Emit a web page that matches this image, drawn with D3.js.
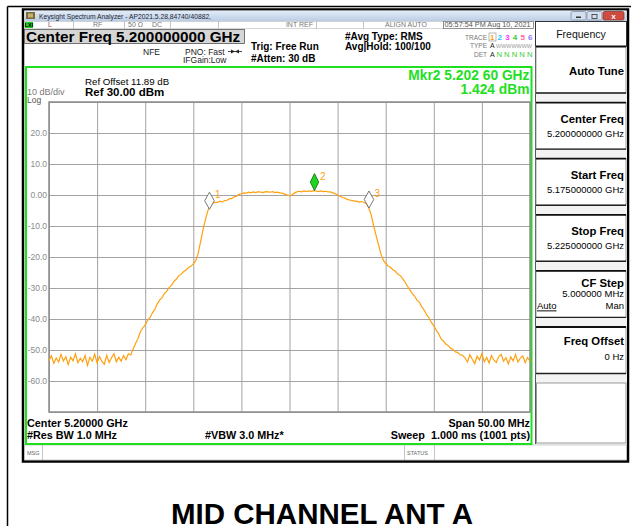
<!DOCTYPE html>
<html><head><meta charset="utf-8">
<script src="https://cdn.jsdelivr.net/npm/d3@7"></script>
<style>
body{margin:0;background:#fff}
svg{display:block;font-family:"Liberation Sans",Arial,Helvetica,sans-serif}
</style>
</head><body>
<svg id="c" width="631" height="526"></svg>
<script>
// ---------------- data ----------------
const startFreqGHz = 5.175;
const stopFreqGHz = 5.225;
const stepGHz = 0.00025;
const refLevelDbm = 30;
const bottomLevelDbm = -70;
const traceDbm = [
-53.4,-51.9,-54.3,-52.6,-53.9,-51.4,-53.6,-52.2,-54.7,-52.3,
-53.5,-51.2,-54.1,-52.7,-53.8,-51.8,-55.0,-52.4,-53.6,-51.3,
-54.2,-52.1,-53.7,-54.6,-51.7,-54.0,-52.5,-51.2,-53.8,-52.3,
-53.6,-51.8,-53.1,-51.2,
-51.6,-49.6,-47.9,-46.3,-44.1,-42.9,
-41.9,-40.4,-39.6,-38.0,-36.9,-35.1,-33.9,-33.1,-31.7,-31.0,
-29.8,-29.1,-27.8,-27.1,-26.0,-25.5,-24.7,-24.2,-23.4,-23.0,
-22.2,-21.2,-18.9,-15.2,-11.3,-8.0,-5.2,-3.4,-2.6,-2.4,
-2.4,-2.0,-2.3,-1.8,-1.7,-1.2,-1.2,-0.6,-0.4,0.2,
0.4,0.7,0.6,0.9,0.7,1.0,0.8,1.1,0.9,0.8,
1.1,1.0,0.9,1.1,0.8,0.9,0.7,0.6,0.3,0.0,
-0.3,0.1,0.6,1.0,1.2,1.0,1.3,1.1,1.3,1.2,
1.4,1.3,1.1,1.3,1.1,1.2,1.0,1.0,0.7,0.4,
0.0,-0.4,-0.8,-1.0,-1.4,-1.6,-1.8,-2.0,-2.0,-2.3,
-2.1,-2.4,-2.8,-4.2,-6.5,-10.0,-13.0,-16.0,-19.0,-21.0,
-22.1,-22.9,-23.3,-24.1,-24.6,-25.5,-26.0,-26.9,-28.0,-29.4,
-30.5,-31.7,-32.6,-33.9,-34.6,-36.1,-37.1,-38.6,-39.6,-41.1,
-42.2,-43.6,-44.7,-46.4,-47.1,-48.1,-48.6,-49.4,-49.8,-50.6,
-50.8,-51.6,-51.7,
-52.6,-53.9,-51.5,-53.0,-54.4,-52.0,-53.2,-51.2,-53.8,-52.4,
-54.2,-51.8,-53.3,-54.0,-52.1,-51.4,-53.6,-52.5,-54.5,-52.2,
-53.5,-51.5,-53.9,-52.6,-51.9,-54.1,-52.4,-53.7
];
const yTickValues = [20,10,0,-10,-20,-30,-40,-50,-60];
const yTickLabels = ["20.0","10.0","0.00","-10.0","-20.0","-30.0","-40.0","-50.0","-60.0"];
const markerIds = ["1","2","3"];
const markerFreqGHz = [5.19168, 5.2026, 5.20826];
const markerDbm = [-4.6, 1.424, -4.2];
const activeMarker = "2";
const softkeyTitles = ["Auto Tune","Center Freq","Start Freq","Stop Freq","CF Step","Freq Offset"];
const softkeyValues = ["","5.200000000 GHz","5.175000000 GHz","5.225000000 GHz","5.000000 MHz","0 Hz"];
const traceNums = ["1","2","3","4","5","6"];

// ---------------- drawing ----------------
const svg = d3.select("#c");
const ORANGE = "#ffa10f", GREEN = "#1fe01f";

// outer page frame lines
svg.append("line").attr("x1",7.5).attr("y1",6.5).attr("x2",631).attr("y2",6.5).attr("stroke","#000").attr("stroke-width",1.5);
svg.append("line").attr("x1",7.5).attr("y1",6.5).attr("x2",7.5).attr("y2",526).attr("stroke","#000").attr("stroke-width",1.5);

// window
svg.append("rect").attr("x",23).attr("y",9.5).attr("width",605).attr("height",452).attr("fill","#fff").attr("stroke","#000").attr("stroke-width",2.5);
const defs = svg.append("defs");
const g1 = defs.append("linearGradient").attr("id","tb").attr("x1",0).attr("y1",0).attr("x2",0).attr("y2",1);
g1.append("stop").attr("offset",0).attr("stop-color","#e4edf8");
g1.append("stop").attr("offset",1).attr("stop-color","#b9cce4");
svg.append("rect").attr("x",24.5).attr("y",10.5).attr("width",602).attr("height",11).attr("fill","url(#tb)");
// app icon
svg.append("rect").attr("x",26).attr("y",12).attr("width",9).attr("height",7).attr("fill","#7a6a3a");
svg.append("rect").attr("x",28).attr("y",13.5).attr("width",5).attr("height",4).attr("fill","#c8b070");
svg.append("text").attr("x",39).attr("y",18.6).attr("font-size",8).attr("fill","#1b2435")
  .attr("textLength",172).attr("lengthAdjust","spacingAndGlyphs")
  .text("Keysight Spectrum Analyzer - AP2021.5.28,84740/40882,");
// window buttons
[[571,15],[587,15]].forEach(([x,w],i)=>{
  svg.append("rect").attr("x",x).attr("y",11.5).attr("width",w).attr("height",8.5).attr("rx",1.5)
    .attr("fill","#d4e0ef").attr("stroke","#7f8fa8").attr("stroke-width",0.8);
});
svg.append("rect").attr("x",576).attr("y",16.5).attr("width",5).attr("height",1.5).attr("fill","#333");
svg.append("rect").attr("x",592).attr("y",14.5).attr("width",5).attr("height",4).attr("fill","none").attr("stroke","#333").attr("stroke-width",0.8);
svg.append("rect").attr("x",603).attr("y",11.5).attr("width",21).attr("height",8.5).attr("rx",1.5)
  .attr("fill","#cf4b3f").attr("stroke","#8a3a35").attr("stroke-width",0.8);
svg.append("text").attr("x",613.5).attr("y",18.8).attr("text-anchor","middle").attr("font-size",8).attr("font-weight","bold").attr("fill","#fff").text("x");

// status row
svg.append("rect").attr("x",24.5).attr("y",21.5).attr("width",509).attr("height",7).attr("fill","#fff").attr("stroke","#bbb").attr("stroke-width",0.6);
svg.append("rect").attr("x",25).attr("y",22).attr("width",8).attr("height",6).attr("fill","#22cc22");
svg.append("text").attr("x",29).attr("y",27.2).attr("text-anchor","middle").attr("font-size",5.5).attr("font-weight","bold").attr("fill","#000").text("LXI");
[73,124,170,218,316,363,443].forEach(x=>{
  svg.append("line").attr("x1",x+0.5).attr("x2",x+0.5).attr("y1",21.5).attr("y2",28.5).attr("stroke","#aaa").attr("stroke-width",0.7);
});
svg.append("rect").attr("x",443.5).attr("y",21.5).attr("width",90).attr("height",7).attr("fill","none").attr("stroke","#777").attr("stroke-width",0.7);
const rowTxt = (x,t,anchor,fill)=>svg.append("text").attr("x",x).attr("y",27.3).attr("font-size",7).attr("fill",fill||"#777").attr("text-anchor",anchor||"start").text(t);
rowTxt(48,"L","start","#a04a4a");
rowTxt(93,"RF");
rowTxt(128,"50 Ω");
rowTxt(152,"DC");
rowTxt(313,"INT REF","end");
rowTxt(385,"ALIGN AUTO");
rowTxt(444.5,"05:57:54 PM Aug 10, 2021","start","#555").attr("textLength",86).attr("lengthAdjust","spacingAndGlyphs");

// Center freq header box
svg.append("rect").attr("x",24.5).attr("y",29.5).attr("width",220).attr("height",14).attr("fill","#d6d6d6").attr("stroke","#555").attr("stroke-width",0.8);
svg.append("text").attr("x",26).attr("y",41.5).attr("font-size",15.3).attr("font-weight","bold").attr("fill","#000")
  .text("Center Freq 5.200000000 GHz");

const small = (x,y,t,o={})=>svg.append("text").attr("x",x).attr("y",y).attr("font-size",o.fs||8.5)
  .attr("font-weight",o.fw||"normal").attr("fill",o.fill||"#000").attr("text-anchor",o.anchor||"start").text(t);
small(143,54.5,"NFE",{fs:8.5,fill:"#222"});
small(185,54.5,"PNO: Fast",{fs:8.5,fill:"#222"});
small(183,63,"IFGain:Low",{fs:8.5,fill:"#222"});
// trigger arrow icon
svg.append("line").attr("x1",228).attr("x2",242).attr("y1",51.5).attr("y2",51.5).attr("stroke","#222").attr("stroke-width",0.8);
svg.append("path").attr("d","M231,49.5 L235,51.5 L231,53.5 Z M239,49.5 L235,51.5 L239,53.5 Z").attr("fill","#222");
small(251,50,"Trig: Free Run",{fs:10,fw:"bold"});
small(251,62,"#Atten: 30 dB",{fs:10,fw:"bold"});
small(345,40,"#Avg Type: RMS",{fs:10,fw:"bold"});
small(345,50,"Avg|Hold: 100/100",{fs:10,fw:"bold"});
small(487,39.5,"TRACE",{fs:6.5,fill:"#777",anchor:"end"});
small(487,48,"TYPE",{fs:6.5,fill:"#777",anchor:"end"});
small(487,56.5,"DET",{fs:6.5,fill:"#777",anchor:"end"});
const traceColors = [ORANGE,"#22c8ff","#ff33ff","#33cc33","#ff6699","#8a7cff"];
svg.append("rect").attr("x",489).attr("y",33).attr("width",7).attr("height",8).attr("fill","none").attr("stroke","#888").attr("stroke-width",0.6);
svg.selectAll("text.tn").data(traceNums).join("text").attr("class","tn")
  .attr("x",(d,i)=>490+i*7.6).attr("y",40).attr("font-size",8).attr("font-weight","bold")
  .attr("fill",(d,i)=>traceColors[i]).text(d=>d);
small(490,48,"A",{fs:7,fill:"#222"});
small(496,48,"WWWWWWW",{fs:5,fill:"#999"}).attr("textLength",36).attr("lengthAdjust","spacingAndGlyphs");
small(490,56.5,"A",{fs:7,fill:"#222"});
small(496.5,56.5,"N N N N N",{fs:7,fill:"#33cc33"}).attr("textLength",36).attr("lengthAdjust","spacingAndGlyphs");

// right softkey panel
svg.append("rect").attr("x",535).attr("y",21.5).attr("width",92).attr("height",423).attr("fill","#f3f3f3");
svg.append("line").attr("x1",535.5).attr("x2",535.5).attr("y1",21.5).attr("y2",444).attr("stroke","#555").attr("stroke-width",1);
svg.append("rect").attr("x",535.5).attr("y",21.5).attr("width",91).attr("height",25).attr("fill","#fff").attr("stroke","#333").attr("stroke-width",1);
svg.append("text").attr("x",581).attr("y",37.5).attr("text-anchor","middle").attr("font-size",10.5).attr("fill","#111").text("Frequency");
const keyTop = i => 46.5 + i*56.1;
softkeyTitles.forEach((t,i)=>{
  const top = keyTop(i);
  svg.append("rect").attr("x",536).attr("y",top).attr("width",90).attr("height",46.5).attr("fill","#fff")
    .attr("stroke","#888").attr("stroke-width",0.8);
  svg.append("line").attr("x1",536).attr("x2",626).attr("y1",top).attr("y2",top).attr("stroke","#111").attr("stroke-width",1.8);
  svg.append("line").attr("x1",536).attr("x2",626).attr("y1",top+46.5).attr("y2",top+46.5).attr("stroke","#222").attr("stroke-width",1.4);
  const v = softkeyValues[i];
  let ty = v==="" ? top+28 : (i===4 ? top+16 : (i===5 ? top+18 : top+20));
  svg.append("text").attr("x",624).attr("y",ty).attr("text-anchor","end").attr("font-size",11.3).attr("font-weight","bold").attr("fill","#000").text(t);
  if (v!=="") {
    svg.append("text").attr("x",624).attr("y",i===4 ? top+26.5 : (i===5? top+33 : top+34)).attr("text-anchor","end").attr("font-size",9.5).attr("fill","#000").text(v);
  }
  if (i===4) {
    svg.append("text").attr("x",537).attr("y",top+38.5).attr("font-size",9.5).attr("fill","#000").attr("text-decoration","underline").text("Auto");
    svg.append("text").attr("x",624).attr("y",top+38.5).attr("text-anchor","end").attr("font-size",9.5).attr("fill","#000").text("Man");
  }
});
svg.append("rect").attr("x",536.5).attr("y",383).attr("width",89.5).attr("height",60).attr("fill","#fff").attr("stroke","#999").attr("stroke-width",1);

// message row
svg.append("rect").attr("x",24.5).attr("y",445).attr("width",602).attr("height",15).attr("fill","#fff").attr("stroke","#aaa").attr("stroke-width",0.6);
[42,404,434].forEach(x=>svg.append("line").attr("x1",x+0.5).attr("x2",x+0.5).attr("y1",445).attr("y2",460).attr("stroke","#aaa").attr("stroke-width",0.7));
small(27,455,"MSG",{fs:5.5,fill:"#666"});
small(407,455,"STATUS",{fs:5.5,fill:"#666"});

// plot area with green frame
svg.append("rect").attr("x",26).attr("y",67).attr("width",505.5).attr("height",377).attr("fill","#fff").attr("stroke",GREEN).attr("stroke-width",2);

const x = d3.scaleLinear().domain([startFreqGHz, stopFreqGHz]).range([49, 530]);
const y = d3.scaleLinear().domain([bottomLevelDbm, refLevelDbm]).range([412, 102]);

// grid via axes
const vTicks = d3.range(11).map(k => startFreqGHz + k*(stopFreqGHz-startFreqGHz)/10);
const hTicks = d3.range(11).map(k => bottomLevelDbm + k*10);
svg.append("g").attr("transform","translate(0,412)")
  .call(d3.axisBottom(x).tickValues(vTicks).tickSize(-310).tickFormat(""))
  .call(g=>{g.select(".domain").remove(); g.selectAll("line").attr("stroke","#a3a3a3").attr("stroke-width",1);});
svg.append("g").attr("transform","translate(49,0)")
  .call(d3.axisRight(y).tickValues(hTicks).tickSize(481).tickFormat(""))
  .call(g=>{g.select(".domain").remove(); g.selectAll("line").attr("stroke","#a3a3a3").attr("stroke-width",1);});
svg.append("rect").attr("x",49).attr("y",102).attr("width",481).attr("height",310).attr("fill","none").attr("stroke","#8c8c8c").attr("stroke-width",1.5);
// y labels
svg.append("g").attr("transform","translate(49,0)")
  .call(d3.axisLeft(y).tickValues(yTickValues).tickSize(0).tickPadding(2)
    .tickFormat((d,i)=>yTickLabels[i]))
  .call(g=>{g.select(".domain").remove();
    g.selectAll("text").attr("fill","#8a8a8a").attr("font-size",8.5).attr("font-family","Liberation Sans, Arial, sans-serif");});

// trace
const line = d3.line().x((d,i)=>x(startFreqGHz + i*stepGHz)).y(d=>y(d));
svg.append("path").datum(traceDbm).attr("d",line).attr("fill","none").attr("stroke",ORANGE).attr("stroke-width",1.2);

// markers
markerIds.forEach((id,i)=>{
  const mx = x(markerFreqGHz[i]), my = y(markerDbm[i]);
  const active = id===activeMarker;
  const w = active ? 4.2 : 4.8, h = 17;
  svg.append("path").attr("d",`M${mx},${my} L${mx+w},${my-h/2} L${mx},${my-h} L${mx-w},${my-h/2} Z`)
    .attr("fill", active ? "#1fd41f" : "#fff").attr("stroke", active ? "#0a6a0a" : "#555").attr("stroke-width",0.8);
  svg.append("text").attr("x",mx+5.5).attr("y",my-11).attr("font-size",10).attr("fill",ORANGE).text(id);
});

// annotations in plot area
svg.append("text").attr("x",27).attr("y",95).attr("font-size",9).attr("fill","#7a7a7a").text("10 dB/div");
svg.append("text").attr("x",27).attr("y",102.5).attr("font-size",8.5).attr("fill","#555").text("Log");
svg.append("text").attr("x",85).attr("y",84.5).attr("font-size",9.7).attr("fill","#000").text("Ref Offset 11.89 dB");
svg.append("text").attr("x",85).attr("y",96).attr("font-size",11.5).attr("font-weight","bold").attr("fill","#000").text("Ref 30.00 dBm");
svg.append("text").attr("x",529.5).attr("y",80).attr("text-anchor","end").attr("font-size",13.8).attr("font-weight","bold").attr("fill",GREEN).text("Mkr2 5.202 60 GHz");
svg.append("text").attr("x",529.5).attr("y",93.5).attr("text-anchor","end").attr("font-size",13.8).attr("font-weight","bold").attr("fill",GREEN).text("1.424 dBm");

// footer inside plot frame
const foot = (xx,yy,t,anchor)=>svg.append("text").attr("x",xx).attr("y",yy).attr("font-size",10.8).attr("font-weight","bold").attr("fill","#000").attr("text-anchor",anchor||"start").text(t);
foot(27,426.5,"Center 5.20000 GHz");
foot(530,426.5,"Span 50.00 MHz","end");
foot(27,438.5,"#Res BW 1.0 MHz");
foot(205,438.5,"#VBW 3.0 MHz*");
foot(530,438.5,"Sweep  1.000 ms (1001 pts)","end").attr("xml:space","preserve");

// caption
svg.append("text").attr("x",322).attr("y",524).attr("text-anchor","middle").attr("font-size",29.5).attr("font-weight","bold").attr("fill","#000").text("MID CHANNEL ANT A");
</script>
</body></html>
